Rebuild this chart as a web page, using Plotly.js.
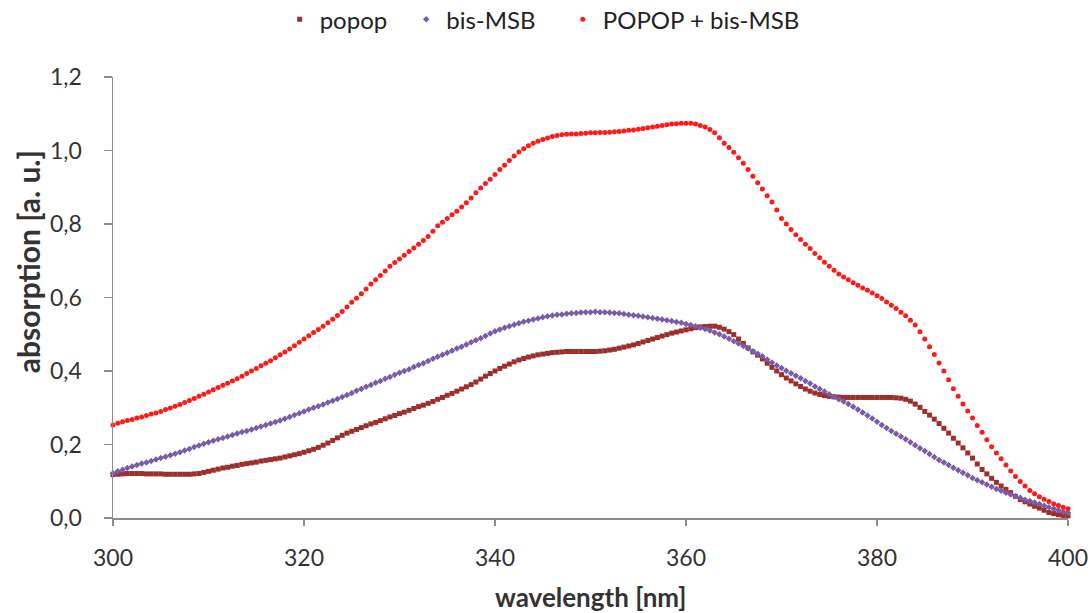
<!DOCTYPE html>
<html>
<head>
<meta charset="utf-8">
<script src="https://cdn.plot.ly/plotly-3.0.1.min.js"></script>
<style>html,body{margin:0;padding:0;background:#fff;}#chart{width:1092px;height:613px;}</style>
</head>
<body>
<div id="chart"></div>
<script>
// wavelength grid: 300 nm to 400 nm in 0.5 nm steps
const waveStart = 300;
const waveStep = 0.5;

const seriesNames = ["popop", "bis-MSB", "POPOP + bis-MSB"];

const popop = [
0.118,0.119,0.120,0.121,0.121,0.121,0.121,0.120,0.120,0.120,
0.120,0.119,0.119,0.119,0.119,0.119,0.119,0.120,0.121,0.124,
0.127,0.130,0.133,0.136,0.138,0.141,0.143,0.146,0.148,0.150,
0.152,0.155,0.157,0.159,0.161,0.163,0.166,0.169,0.172,0.175,
0.179,0.183,0.187,0.192,0.198,0.204,0.211,0.218,0.225,0.231,
0.236,0.241,0.246,0.251,0.256,0.260,0.265,0.270,0.275,0.279,
0.284,0.288,0.293,0.298,0.303,0.307,0.312,0.317,0.323,0.328,
0.334,0.339,0.345,0.351,0.357,0.363,0.370,0.378,0.386,0.393,
0.400,0.407,0.413,0.419,0.425,0.430,0.434,0.438,0.441,0.444,
0.446,0.448,0.450,0.451,0.452,0.453,0.453,0.453,0.453,0.453,
0.453,0.453,0.454,0.455,0.457,0.459,0.462,0.465,0.468,0.471,
0.475,0.479,0.483,0.487,0.491,0.495,0.499,0.503,0.506,0.509,
0.512,0.515,0.518,0.520,0.521,0.522,0.522,0.519,0.514,0.507,
0.499,0.487,0.475,0.463,0.452,0.443,0.433,0.421,0.410,0.400,
0.390,0.381,0.373,0.365,0.358,0.351,0.345,0.340,0.336,0.333,
0.331,0.330,0.329,0.328,0.328,0.328,0.328,0.328,0.328,0.328,
0.328,0.328,0.328,0.328,0.327,0.326,0.323,0.318,0.310,0.301,
0.290,0.280,0.269,0.257,0.244,0.231,0.217,0.204,0.191,0.177,
0.163,0.147,0.132,0.120,0.108,0.097,0.087,0.078,0.069,0.059,
0.050,0.044,0.038,0.032,0.027,0.021,0.015,0.012,0.009,0.007,
0.006
];

const bisMSB = [
0.122,0.127,0.131,0.136,0.140,0.144,0.148,0.151,0.155,0.159,
0.163,0.167,0.171,0.175,0.179,0.184,0.188,0.193,0.197,0.202,
0.206,0.210,0.214,0.218,0.222,0.226,0.230,0.234,0.237,0.241,
0.245,0.249,0.253,0.257,0.261,0.265,0.270,0.275,0.280,0.285,
0.290,0.295,0.300,0.304,0.309,0.314,0.319,0.324,0.329,0.335,
0.340,0.346,0.351,0.357,0.362,0.368,0.373,0.379,0.384,0.390,
0.395,0.400,0.405,0.411,0.416,0.421,0.427,0.433,0.439,0.444,
0.450,0.455,0.461,0.466,0.472,0.478,0.484,0.489,0.495,0.502,
0.508,0.513,0.518,0.522,0.526,0.530,0.534,0.537,0.540,0.543,
0.546,0.549,0.551,0.553,0.554,0.556,0.557,0.558,0.559,0.560,
0.560,0.561,0.560,0.560,0.559,0.558,0.557,0.555,0.553,0.552,
0.550,0.548,0.546,0.544,0.542,0.540,0.538,0.536,0.533,0.531,
0.528,0.525,0.522,0.518,0.514,0.510,0.505,0.500,0.494,0.488,
0.481,0.475,0.468,0.461,0.454,0.447,0.440,0.431,0.423,0.415,
0.408,0.401,0.394,0.387,0.380,0.373,0.366,0.358,0.351,0.344,
0.337,0.330,0.323,0.317,0.310,0.303,0.295,0.287,0.279,0.271,
0.262,0.253,0.245,0.237,0.229,0.222,0.214,0.206,0.198,0.190,
0.182,0.174,0.166,0.158,0.151,0.144,0.137,0.130,0.123,0.116,
0.109,0.103,0.097,0.091,0.085,0.079,0.074,0.069,0.064,0.059,
0.055,0.050,0.046,0.042,0.038,0.033,0.029,0.025,0.021,0.017,
0.014
];

const popopBisMSB = [
0.253,0.258,0.262,0.265,0.268,0.272,0.275,0.279,0.283,0.286,
0.290,0.295,0.299,0.304,0.309,0.314,0.320,0.325,0.331,0.337,
0.343,0.349,0.355,0.361,0.367,0.373,0.379,0.386,0.393,0.400,
0.407,0.414,0.421,0.428,0.436,0.444,0.452,0.460,0.469,0.478,
0.487,0.496,0.505,0.513,0.522,0.531,0.541,0.551,0.562,0.574,
0.587,0.598,0.610,0.623,0.637,0.648,0.660,0.672,0.685,0.695,
0.705,0.715,0.725,0.735,0.745,0.755,0.766,0.780,0.795,0.805,
0.815,0.825,0.835,0.846,0.858,0.871,0.885,0.898,0.910,0.922,
0.935,0.948,0.960,0.973,0.985,0.996,1.005,1.013,1.020,1.025,
1.030,1.034,1.038,1.041,1.043,1.044,1.045,1.045,1.046,1.047,
1.048,1.048,1.049,1.049,1.050,1.051,1.052,1.053,1.055,1.056,
1.058,1.060,1.062,1.064,1.066,1.068,1.070,1.072,1.073,1.074,
1.074,1.074,1.072,1.068,1.064,1.057,1.048,1.035,1.020,1.008,
0.995,0.980,0.965,0.948,0.930,0.912,0.895,0.877,0.860,0.838,
0.815,0.800,0.785,0.771,0.758,0.745,0.733,0.720,0.708,0.696,
0.685,0.674,0.664,0.656,0.648,0.640,0.633,0.626,0.620,0.612,
0.605,0.597,0.588,0.579,0.570,0.560,0.550,0.538,0.525,0.507,
0.487,0.466,0.445,0.422,0.400,0.376,0.352,0.331,0.310,0.291,
0.272,0.252,0.233,0.213,0.194,0.177,0.161,0.144,0.128,0.113,
0.099,0.087,0.075,0.066,0.058,0.051,0.045,0.039,0.034,0.029,
0.025
];

const xTickVals = [300, 320, 340, 360, 380, 400];
const yTickVals = [0, 0.2, 0.4, 0.6, 0.8, 1.0, 1.2];
const xTitle = "wavelength [nm]";
const yTitle = "absorption [a. u.]";

const colors = ["#9C2F2E", "#7A5CA6", "#FF1A1A"];
const symbols = ["square", "diamond", "circle"];
const sizes = [5, 5, 5];
const legendIds = ["legend", "legend2", "legend3"];
const dataSets = [popop, bisMSB, popopBisMSB];

const traces = dataSets.map((ys, i) => ({
  type: "scatter",
  mode: "markers",
  name: seriesNames[i],
  legend: legendIds[i],
  x0: waveStart,
  dx: waveStep,
  y: ys,
  marker: {color: colors[i], symbol: symbols[i], size: sizes[i], line: {width: 0}},
  cliponaxis: false
}));

const FONT = "Lato, 'Open Sans', sans-serif";
const tickFont = {family: FONT, size: 23, color: "#333333"};
const legFont = {family: FONT, size: 24, color: "#222222"};

function legendAt(x) {
  return {orientation: "h", x: x, xanchor: "left", y: 1.13, yanchor: "middle",
          font: legFont, bgcolor: "rgba(0,0,0,0)", borderwidth: 0};
}

const layout = {
  width: 1092, height: 613,
  margin: {l: 113, r: 24, t: 77, b: 95, autoexpand: false},
  paper_bgcolor: "#ffffff", plot_bgcolor: "#ffffff",
  separators: ", ",
  showlegend: true,
  legend: legendAt(0.1745),
  legend2: legendAt(0.307),
  legend3: legendAt(0.471),
  xaxis: {
    range: [300, 400], tickvals: xTickVals, ticktext: xTickVals.map(String),
    showgrid: false, zeroline: false, showline: true, linecolor: "#8c8c8c", linewidth: 1.5,
    ticks: "outside", ticklen: 6, tickcolor: "#8c8c8c", tickwidth: 1.5,
    ticklabelstandoff: 13, automargin: false,
    tickfont: tickFont
  },
  yaxis: {
    range: [0, 1.2], tickvals: yTickVals, tickformat: ".1f",
    showgrid: false, zeroline: false, showline: true, linecolor: "#8c8c8c", linewidth: 1.5,
    ticks: "outside", ticklen: 8, tickcolor: "#8c8c8c", tickwidth: 1.5,
    ticklabelstandoff: 17, automargin: false,
    tickfont: tickFont
  },
  annotations: [
    {text: "<b>" + xTitle + "</b>", xref: "paper", yref: "paper", x: 0.5, y: -0.179,
     xanchor: "center", yanchor: "middle", showarrow: false,
     font: {family: FONT, size: 26, color: "#333333"}},
    {text: "<b>" + yTitle + "</b>", xref: "paper", yref: "paper", x: -0.089, y: 0.58,
     xanchor: "center", yanchor: "middle", showarrow: false, textangle: -90,
     font: {family: FONT, size: 30, color: "#333333"}}
  ]
};

Plotly.newPlot("chart", traces, layout, {staticPlot: true, displayModeBar: false});
</script>
</body>
</html>
